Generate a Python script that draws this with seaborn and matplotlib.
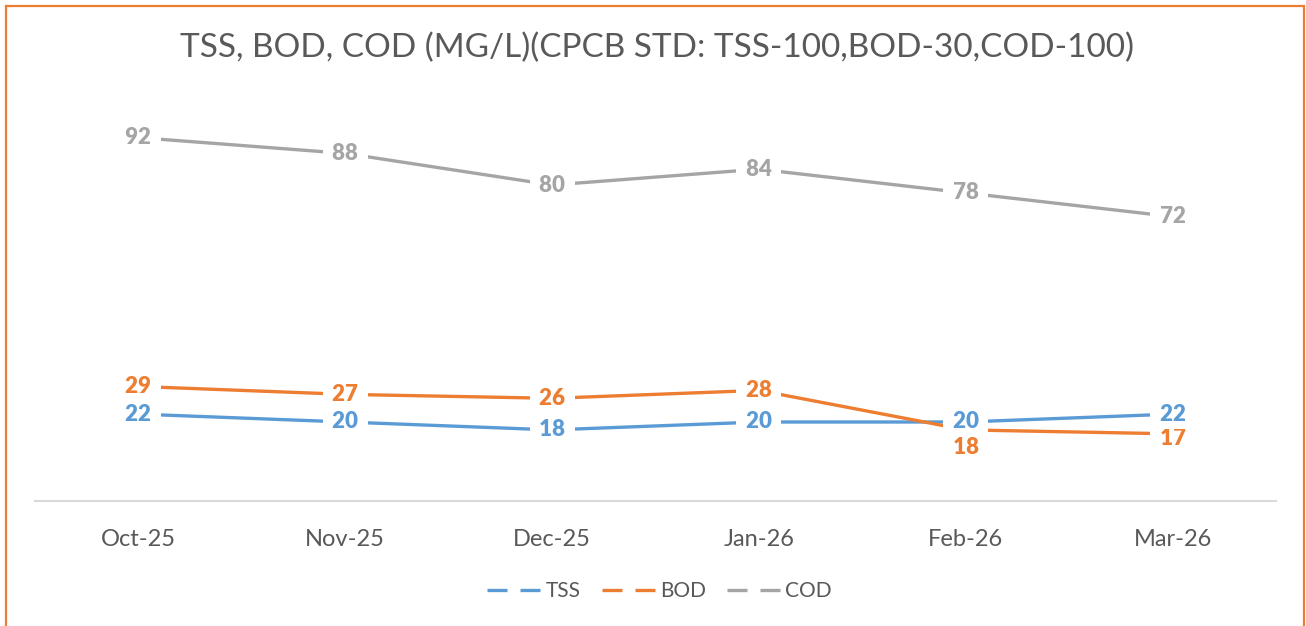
import pandas as pd
import matplotlib.pyplot as plt
import seaborn as sns
from matplotlib.lines import Line2D
from matplotlib.patches import Rectangle

# =============================================================================
# Data (mg/L)
# =============================================================================
months = ['Oct-25', 'Nov-25', 'Dec-25', 'Jan-26', 'Feb-26', 'Mar-26']
tss = [22, 20, 18, 20, 20, 22]
bod = [29, 27, 26, 28, 18, 17]
cod = [92, 88, 80, 84, 78, 72]

series = ['TSS', 'BOD', 'COD']
colors = {'TSS': '#5B9BD5', 'BOD': '#ED7D31', 'COD': '#A5A5A5'}

df = pd.DataFrame({'Month': months * 3,
                   'Param': ['TSS'] * 6 + ['BOD'] * 6 + ['COD'] * 6,
                   'Value': tss + bod + cod})
df['x'] = df['Month'].map({m: i for i, m in enumerate(months)})

sns.set_style('white')
plt.rcParams['font.family'] = ['Lato', 'DejaVu Sans']

fig = plt.figure(figsize=(13.06, 6.26), dpi=100)
ax = fig.add_axes([35 / 1306, 1 - 501 / 626, 1241 / 1306, 395 / 626])

sns.lineplot(data=df, x='x', y='Value', hue='Param', palette=colors,
             hue_order=series, linewidth=2.4, ax=ax, legend=False)

ax.set_xlim(-0.5, 5.5)
ax.set_ylim(0, 100)
ax.set_xticks(range(len(months)))
ax.set_xticklabels(months, fontsize=17, color='#595959')
ax.tick_params(axis='x', length=0, pad=20)
ax.set_yticks([])
ax.set_xlabel('')
ax.set_ylabel('')
for s in ['top', 'left', 'right']:
    ax.spines[s].set_visible(False)
ax.spines['bottom'].set_color('#D9D9D9')
ax.spines['bottom'].set_linewidth(1.5)

# data labels, centred on points with white boxes
label_z = {'TSS': 7, 'BOD': 6, 'COD': 5}
for name, vals in zip(series, [tss, bod, cod]):
    for i, v in enumerate(vals):
        dy = 0
        if name == 'BOD' and months[i] == 'Feb-26':
            dy = -13
        elif name == 'BOD' and months[i] == 'Mar-26':
            dy = -3
        ax.annotate(f' {v} ', (i, v), xytext=(0, dy), textcoords='offset points',
                    ha='center', va='center', fontsize=16, fontweight='heavy',
                    color=colors[name], zorder=label_z[name],
                    bbox=dict(boxstyle='square,pad=0.2', fc='white', ec='none'))

fig.suptitle('TSS, BOD, COD (MG/L)(CPCB STD: TSS-100,BOD-30,COD-100)',
             x=0.503, y=0.948, fontsize=24, color='#595959')

handles = [Line2D([0], [0], color=colors[s], lw=2.4, linestyle=(0, (6, 3.9)))
           for s in series]
fig.legend(handles, series, loc='center', bbox_to_anchor=(0.505, 1 - 591 / 626),
           ncol=3, frameon=False, fontsize=15, handlelength=2.6,
           handletextpad=0.2, columnspacing=1.0, labelcolor='#595959')

# orange chart frame
fig.patches.append(Rectangle((6 / 1306, -0.05), 1298 / 1306, 1.05 - 6 / 626,
                             transform=fig.transFigure, fill=False,
                             ec='#ED7D31', lw=1.6))

fig.savefig('out.png', dpi=100)
